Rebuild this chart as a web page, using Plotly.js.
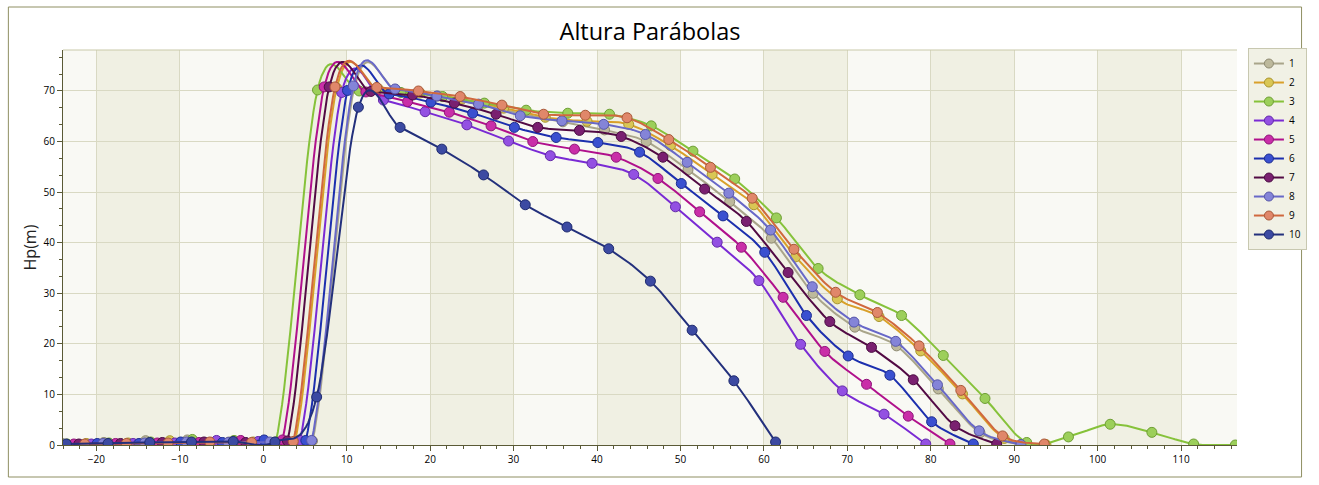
<!DOCTYPE html>
<html>
<head>
<meta charset="utf-8">
<script src="https://cdn.plot.ly/plotly-3.0.1.min.js"></script>
<style>
html,body{margin:0;padding:0;background:#ffffff;}
#chart{width:1319px;height:485px;}
</style>
</head>
<body>
<div id="chart"></div>
<script>
// Series names
var seriesNames = ["1","2","3","4","5","6","7","8","9","10"];

// x values and heights for each series
var x1 = [-24.1,-19.1,-14.1,-9.1,-4.1,0.9,5.9,10.9,15.9,20.9,25.9,30.9,35.9,40.9,45.9,50.9,55.9,60.9,65.9,70.9,75.9,80.9,85.9,90.9];
var y1 = [0.3,0.5,0.85,1.0,0.6,0.5,0.8,70.6,70.2,69.0,67.3,65.4,63.9,62.3,60.0,54.4,48.1,40.9,30.0,23.3,19.6,11.1,2.4,0.1];

var x2 = [-21.2,-16.2,-11.2,-6.2,-1.2,3.8,8.8,13.8,18.8,23.8,28.8,33.8,38.8,43.8,48.8,53.8,58.8,63.8,68.8,73.8,78.8,83.8,88.8,93.8];
var y2 = [0.3,0.4,0.85,0.5,0.6,0.7,70.6,70.4,69.6,68.4,66.6,64.8,64.0,63.4,59.2,53.5,47.5,37.2,28.9,25.4,18.6,10.1,1.3,0.1];

var x3 = [-23.5,-18.5,-13.5,-8.5,-3.5,1.5,6.5,11.5,16.5,21.5,26.5,31.5,36.5,41.5,46.5,51.5,56.5,61.5,66.5,71.5,76.5,81.5,86.5,91.5,96.5,101.5,106.5,111.5,116.5];
var y3 = [0.2,0.4,0.6,1.1,0.9,0.6,70.2,70.0,69.7,68.9,67.6,66.2,65.6,65.4,63.1,58.1,52.6,44.9,34.9,29.7,25.6,17.7,9.2,0.5,1.6,4.1,2.5,0.2,0.0];

var x4 = [-20.6,-15.6,-10.6,-5.6,-0.6,4.4,9.4,14.4,19.4,24.4,29.4,34.4,39.4,44.4,49.4,54.4,59.4,64.4,69.4,74.4,79.4];
var y4 = [0.2,0.3,0.4,0.9,0.7,0.9,69.7,68.2,65.9,63.3,60.1,57.2,55.7,53.5,47.1,40.1,32.5,19.9,10.7,6.1,0.2];

var x5 = [-22.7,-17.7,-12.7,-7.7,-2.7,2.3,7.3,12.3,17.3,22.3,27.3,32.3,37.3,42.3,47.3,52.3,57.3,62.3,67.3,72.3,77.3,82.3];
var y5 = [0.2,0.3,0.4,0.5,0.9,1.0,70.8,69.8,67.9,65.8,63.1,60.0,58.5,56.9,52.7,46.1,39.1,29.2,18.5,12.0,5.7,0.2];

var x6 = [-19.9,-14.9,-9.9,-4.9,0.1,5.1,10.1,15.1,20.1,25.1,30.1,35.1,40.1,45.1,50.1,55.1,60.1,65.1,70.1,75.1,80.1,85.1];
var y6 = [0.3,0.3,0.6,0.5,1.0,0.9,70.1,69.4,67.8,65.6,62.8,60.8,59.8,57.9,51.7,45.3,38.1,25.6,17.6,13.8,4.6,0.2];

var x7 = [-22.1,-17.1,-12.1,-7.1,-2.1,2.9,7.9,12.9,17.9,22.9,27.9,32.9,37.9,42.9,47.9,52.9,57.9,62.9,67.9,72.9,77.9,82.9,87.9];
var y7 = [0.2,0.3,0.5,0.6,0.5,0.8,70.8,69.9,69.2,67.6,65.4,62.8,62.2,61.0,56.9,50.6,44.2,34.1,24.4,19.3,12.9,3.8,0.2];

var x8 = [-19.2,-14.2,-9.2,-4.2,0.8,5.8,10.8,15.8,20.8,25.8,30.8,35.8,40.8,45.8,50.8,55.8,60.8,65.8,70.8,75.8,80.8,85.8,90.8];
var y8 = [0.3,0.4,0.6,0.5,0.6,0.9,71.0,70.4,69.0,67.4,65.1,64.1,63.4,61.4,55.9,49.8,42.5,31.3,24.3,20.5,11.9,2.8,0.1];

var x9 = [-21.4,-16.4,-11.4,-6.4,-1.4,3.6,8.6,13.6,18.6,23.6,28.6,33.6,38.6,43.6,48.6,53.6,58.6,63.6,68.6,73.6,78.6,83.6,88.6,93.6];
var y9 = [0.2,0.3,0.4,0.6,0.5,0.7,70.8,70.7,70.0,68.9,67.2,65.4,65.2,64.7,60.4,54.9,48.8,38.7,30.2,26.2,19.6,10.8,1.8,0.2];

var x10 = [-23.6,-18.6,-13.6,-8.6,-3.6,1.4,6.4,11.4,16.4,21.4,26.4,31.4,36.4,41.4,46.4,51.4,56.4,61.4];
var y10 = [0.2,0.3,0.5,0.6,0.7,0.6,9.5,66.8,62.8,58.5,53.4,47.5,43.1,38.8,32.4,22.7,12.7,0.6];

var xTickVals = [-20,-10,0,10,20,30,40,50,60,70,80,90,100,110];
var yTickVals = [0,10,20,30,40,50,60,70];

var xs = [x1,x2,x3,x4,x5,x6,x7,x8,x9,x10];
var ys = [y1,y2,y3,y4,y5,y6,y7,y8,y9,y10];

var lineColors   = ["#a9a58a","#d9a02a","#86c23a","#7a2ad4","#b0108c","#1c2fae","#520a44","#6868c8","#d0683e","#23307c"];
var markerColors = ["#bdb99c","#d9c655","#9ccf5a","#9350e2","#c92ea8","#3a50d0","#7a2070","#8484d8","#e0876a","#3c4aa2"];
var markerEdge   = ["#8d8970","#a8942c","#6e9e34","#6228a8","#8e1478","#1c2c8e","#4a0c42","#5656a8","#a85838","#1e2a6e"];

// Cardinal (Catmull-Rom) spline through the data points, as the original chart smooths its lines
function cardinal(xa, ya, steps) {
  var ox = [], oy = [], n = xa.length;
  for (var i = 0; i < n - 1; i++) {
    var i0 = Math.max(i - 1, 0), i3 = Math.min(i + 2, n - 1);
    var mx1 = (xa[i + 1] - xa[i0]) / 2, my1 = (ya[i + 1] - ya[i0]) / 2;
    var mx2 = (xa[i3] - xa[i]) / 2, my2 = (ya[i3] - ya[i]) / 2;
    for (var s = 0; s < steps; s++) {
      var t = s / steps, t2 = t * t, t3 = t2 * t;
      var h00 = 2 * t3 - 3 * t2 + 1, h10 = t3 - 2 * t2 + t, h01 = -2 * t3 + 3 * t2, h11 = t3 - t2;
      ox.push(h00 * xa[i] + h10 * mx1 + h01 * xa[i + 1] + h11 * mx2);
      oy.push(h00 * ya[i] + h10 * my1 + h01 * ya[i + 1] + h11 * my2);
    }
  }
  ox.push(xa[n - 1]); oy.push(ya[n - 1]);
  return {x: ox, y: oy};
}

var curveTraces = [], markerTraces = [], legendTraces = [];
for (var i = 0; i < seriesNames.length; i++) {
  var c = cardinal(xs[i], ys[i], 20);
  curveTraces.push({
    type: 'scatter', mode: 'lines', x: c.x, y: c.y, showlegend: false, hoverinfo: 'skip',
    legendgroup: seriesNames[i], line: {color: lineColors[i], width: 2}
  });
  markerTraces.push({
    type: 'scatter', mode: 'markers', x: xs[i], y: ys[i], showlegend: false, name: seriesNames[i],
    legendgroup: seriesNames[i],
    marker: {size: 10, color: markerColors[i], line: {color: markerEdge[i], width: 1}}
  });
  legendTraces.push({
    type: 'scatter', mode: 'lines+markers', x: [null], y: [null], name: seriesNames[i],
    legendgroup: seriesNames[i], showlegend: true,
    line: {color: lineColors[i], width: 2},
    marker: {size: 9, color: markerColors[i], line: {color: markerEdge[i], width: 1}}
  });
}
var traces = [];
for (var k = 0; k < seriesNames.length; k++) { traces.push(curveTraces[k]); traces.push(markerTraces[k]); }
traces = traces.concat(legendTraces);

// alternating vertical bands
var shapes = [];
for (var b = -20; b <= 110; b += 20) {
  shapes.push({type:'rect', xref:'x', yref:'paper', x0:b, x1:b+10, y0:0, y1:1,
    fillcolor:'#f0f0e3', line:{width:0}, layer:'below'});
}
// outer frame
shapes.push({type:'rect', xref:'paper', yref:'paper',
  x0:(8-63)/1182, x1:(1310-63)/1182, y0:(445-477)/395, y1:(445-7)/395,
  line:{color:'#8f8f62', width:1}, fillcolor:'rgba(0,0,0,0)', layer:'below'});
// top border of plot
shapes.push({type:'line', xref:'paper', yref:'paper', x0:0, x1:1, y0:1, y1:1,
  line:{color:'#c9c9a9', width:1}});

var layout = {
  width: 1319, height: 485,
  margin: {l:63, r:74, t:50, b:40, pad:0},
  paper_bgcolor: '#ffffff',
  plot_bgcolor: '#f9f9f4',
  font: {family: 'Open Sans, Noto Sans, sans-serif', color:'#000000', size: 10},
  title: {text: 'Altura Parábolas', x: 0.5, xref:'paper', xanchor:'center', y: 1 - 32/485, yref:'container', yanchor:'middle',
          font: {family:'Open Sans, Noto Sans, sans-serif', size: 23.5, color:'#000000'}},
  showlegend: true,
  legend: {x: 1.0093, xanchor:'left', y: 1.005, yanchor:'top',
           bgcolor:'#f1f1e5', bordercolor:'#c8c8b0', borderwidth:1,
           font:{size:10, family:'Open Sans, Noto Sans, sans-serif'},
           itemwidth: 30, tracegroupgap: 0},
  xaxis: {
    range: [-24, 116.7],
    tickmode: 'array', tickvals: xTickVals,
    ticks: 'outside', ticklen: 5, tickcolor:'#5a5a36',
    showline: true, linecolor:'#5a5a36', linewidth: 1,
    showgrid: true, gridcolor:'#d9d9c3', gridwidth: 1,
    zeroline: false,
    tickfont: {size: 10},
    minor: {tickmode:'linear', tick0: 0, dtick: 2, ticks:'outside', ticklen: 3, tickcolor:'#5a5a36', showgrid:false}
  },
  yaxis: {
    range: [0, 78.1],
    tickmode: 'array', tickvals: yTickVals,
    ticks: 'outside', ticklen: 5, tickcolor:'#5a5a36',
    showline: true, linecolor:'#5a5a36', linewidth: 1,
    showgrid: true, gridcolor:'#d9d9c3', gridwidth: 1,
    zeroline: false,
    tickfont: {size: 10},
    title: {text: 'Hp(m)', font: {size: 16, family:'Open Sans, Noto Sans, sans-serif', color:'#222222'}, standoff: 2},
    minor: {tickmode:'linear', tick0: 0, dtick: 10/3, ticks:'outside', ticklen: 3, tickcolor:'#5a5a36', showgrid:false}
  },
  shapes: shapes
};

Plotly.newPlot('chart', traces, layout, {displayModeBar:false, staticPlot:true});
</script>
</body>
</html>
